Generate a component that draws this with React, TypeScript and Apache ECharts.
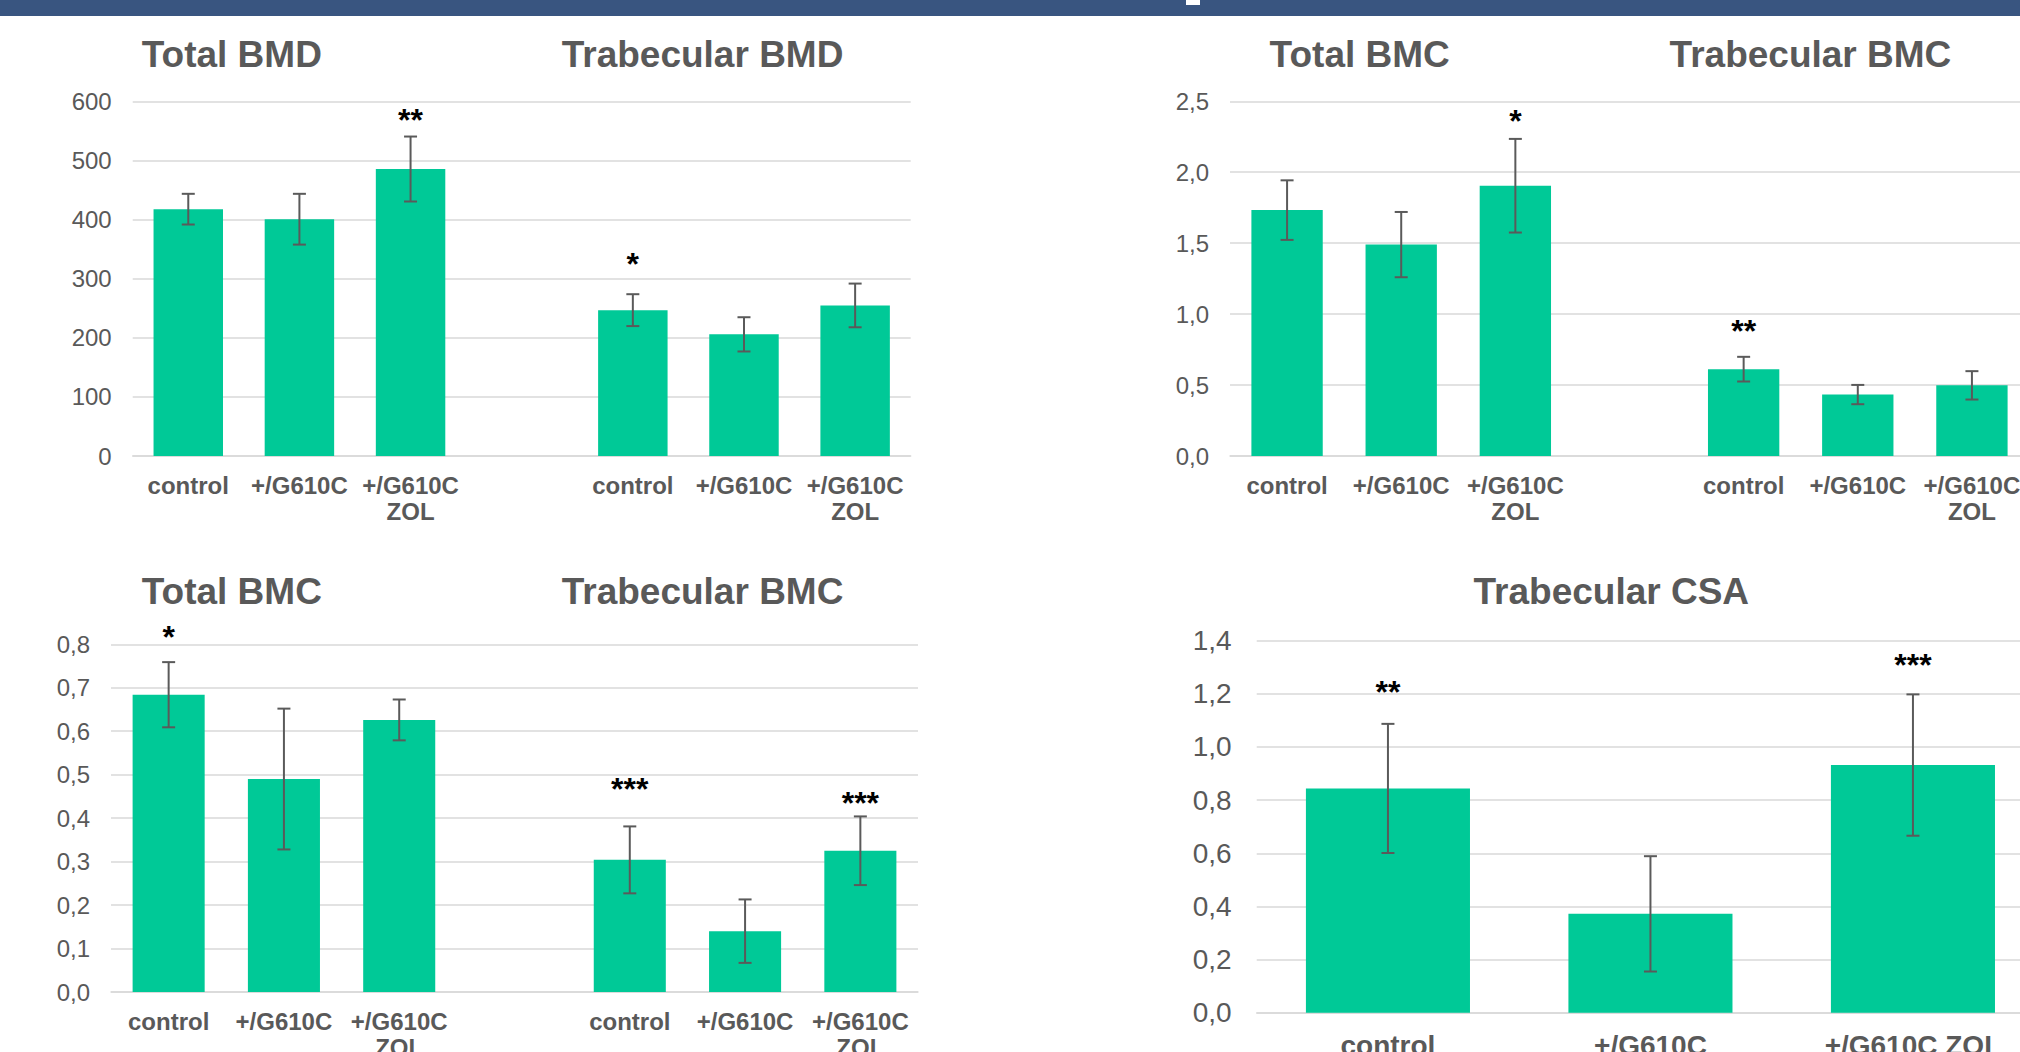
import React, { useEffect, useRef } from "react";
import * as echarts from "echarts";

// ---------- data ----------
const groupCats = ["control", "+/G610C", "+/G610C\nZOL"];
const splitCats = [...groupCats, "", ...groupCats];
const csaCats = ["control", "+/G610C", "+/G610C ZOL"];

// Panel A: Total BMD / Trabecular BMD
const totalBMD = [418, 401, 486];
const totalBMDErr = [26, 43, 55];
const totalBMDStars = ["", "", "**"];
const totalBMDStarY = [0, 0, 580];
const trabBMD = [247, 206, 255];
const trabBMDErr = [27, 29, 37];
const trabBMDStars = ["*", "", ""];
const trabBMDStarY = [336, 0, 0];

// Panel B: Total BMC / Trabecular BMC (top)
const totalBMC1 = [1.733, 1.49, 1.905];
const totalBMC1Err = [0.21, 0.23, 0.33];
const totalBMC1Stars = ["", "", "*"];
const totalBMC1StarY = [0, 0, 2.4];
const trabBMC1 = [0.612, 0.433, 0.498];
const trabBMC1Err = [0.087, 0.068, 0.1];
const trabBMC1Stars = ["**", "", ""];
const trabBMC1StarY = [0.924, 0, 0];

// Panel C: Total BMC / Trabecular BMC (bottom)
const totalBMC2 = [0.684, 0.49, 0.626];
const totalBMC2Err = [0.075, 0.162, 0.047];
const totalBMC2Stars = ["*", "", ""];
const totalBMC2StarY = [0.83, 0, 0];
const trabBMC2 = [0.304, 0.14, 0.325];
const trabBMC2Err = [0.077, 0.073, 0.079];
const trabBMC2Stars = ["***", "", "***"];
const trabBMC2StarY = [0.481, 0, 0.448];

// Panel D: Trabecular CSA
const trabCSA = [0.844, 0.372, 0.932];
const trabCSAErr = [0.243, 0.217, 0.266];
const trabCSAStars = ["**", "", "***"];
const trabCSAStarY = [1.229, 0, 1.331];

// ---------- helpers ----------
const FONT = '"Liberation Sans", Arial, Helvetica, sans-serif';
const GRAY = "#595959";
const GRID = "#D9D9D9";
const BAR = "#00C997";

const join = (a: any[], b: any[]) => [...a, null, ...b];

const comma1 = (v: number) => v.toFixed(1).replace(".", ",");

function barSeries(idx: number, values: (number | null)[]) {
  return {
    type: "bar",
    xAxisIndex: idx,
    yAxisIndex: idx,
    barWidth: "62.5%",
    itemStyle: { color: BAR },
    data: values.map((v) => (v == null ? "-" : v)),
    silent: true,
    z: 2,
  };
}

function errSeries(
  idx: number,
  values: (number | null)[],
  errs: (number | null)[],
  stars: string[],
  starY: (number | null)[],
  starSize: number
) {
  return {
    type: "custom",
    xAxisIndex: idx,
    yAxisIndex: idx,
    clip: false,
    silent: true,
    z: 10,
    data: values.map((v, i) => [i, v == null ? 0 : v]),
    renderItem: (params: any, api: any) => {
      const i = params.dataIndex;
      const children: any[] = [];
      const v = values[i];
      const e = errs[i];
      if (v != null && e != null) {
        const top = api.coord([i, v + e]);
        const bot = api.coord([i, v - e]);
        const hw = 6.5;
        const st = { stroke: "#5A5A5A", lineWidth: 2 };
        children.push({ type: "line", shape: { x1: top[0], y1: top[1], x2: bot[0], y2: bot[1] }, style: st });
        children.push({ type: "line", shape: { x1: top[0] - hw, y1: top[1], x2: top[0] + hw, y2: top[1] }, style: st });
        children.push({ type: "line", shape: { x1: bot[0] - hw, y1: bot[1], x2: bot[0] + hw, y2: bot[1] }, style: st });
      }
      if (stars[i]) {
        const p = api.coord([i, starY[i]]);
        children.push({
          type: "text",
          x: p[0],
          y: p[1] + 6,
          style: {
            text: stars[i],
            font: `bold ${starSize}px ${FONT}`,
            fill: "#000000",
            align: "center",
            verticalAlign: "middle",
          },
        });
      }
      return { type: "group", children };
    },
  };
}

function xAxis(idx: number, cats: string[], fontSize: number, margin: number, lineHeight: number) {
  return {
    type: "category",
    gridIndex: idx,
    data: cats,
    axisLine: { show: true, lineStyle: { color: GRID, width: 1.5 } },
    axisTick: { show: false },
    axisLabel: {
      interval: 0,
      margin,
      color: GRAY,
      fontFamily: FONT,
      fontWeight: "bold",
      fontSize,
      lineHeight,
      align: "center",
    },
  };
}

function yAxis(idx: number, max: number, interval: number, fmt: (v: number) => string, fontSize: number, margin: number) {
  return {
    type: "value",
    gridIndex: idx,
    min: 0,
    max,
    interval,
    axisLine: { show: false },
    axisTick: { show: false },
    splitLine: { show: true, lineStyle: { color: GRID, width: 1.5 } },
    axisLabel: { color: GRAY, fontFamily: FONT, fontSize, margin, formatter: fmt },
  };
}

function title(text: string, x: number, y: number) {
  return {
    type: "text",
    x,
    y,
    silent: true,
    style: {
      text,
      font: `bold 37px ${FONT}`,
      fill: GRAY,
      align: "left",
      verticalAlign: "middle",
    },
  };
}

const gridBase = { containLabel: false, outerBoundsMode: "none" };

export default function App() {
  const ref = useRef<HTMLDivElement>(null);

  useEffect(() => {
    if (!ref.current) return;
    const chart = echarts.init(ref.current, undefined, { renderer: "svg" });

    const aVals = join(totalBMD, trabBMD);
    const bVals = join(totalBMC1, trabBMC1);
    const cVals = join(totalBMC2, trabBMC2);

    chart.setOption({
      animation: false,
      backgroundColor: "#ffffff",
      grid: [
        { ...gridBase, left: 132.7, top: 101.7, width: 778, height: 354.3 },
        { ...gridBase, left: 1230, top: 101.3, width: 799, height: 354.7 },
        { ...gridBase, left: 111, top: 644.3, width: 807, height: 347.7 },
        { ...gridBase, left: 1256.7, top: 640.7, width: 787.5, height: 372 },
      ],
      xAxis: [
        xAxis(0, splitCats, 24, 16, 26),
        xAxis(1, splitCats, 24, 16, 26),
        xAxis(2, splitCats, 24, 16, 26),
        xAxis(3, csaCats, 28, 18, 30),
      ],
      yAxis: [
        yAxis(0, 600, 100, (v) => String(Math.round(v)), 24, 21),
        yAxis(1, 2.5, 0.5, comma1, 24, 21),
        yAxis(2, 0.8, 0.1, comma1, 24, 21),
        yAxis(3, 1.4, 0.2, comma1, 28, 25),
      ],
      series: [
        barSeries(0, aVals),
        errSeries(0, aVals, join(totalBMDErr, trabBMDErr), [...totalBMDStars, "", ...trabBMDStars], join(totalBMDStarY, trabBMDStarY), 32),
        barSeries(1, bVals),
        errSeries(1, bVals, join(totalBMC1Err, trabBMC1Err), [...totalBMC1Stars, "", ...trabBMC1Stars], join(totalBMC1StarY, trabBMC1StarY), 32),
        barSeries(2, cVals),
        errSeries(2, cVals, join(totalBMC2Err, trabBMC2Err), [...totalBMC2Stars, "", ...trabBMC2Stars], join(totalBMC2StarY, trabBMC2StarY), 32),
        barSeries(3, trabCSA),
        errSeries(3, trabCSA, trabCSAErr, trabCSAStars, trabCSAStarY, 32),
      ],
      graphic: [
        { type: "rect", left: 0, top: 0, shape: { width: 2020, height: 16 }, style: { fill: "#395580" }, silent: true },
        { type: "rect", left: 1186, top: 0, shape: { width: 14, height: 5 }, style: { fill: "#ffffff" }, silent: true },
        title("Total BMD", 141.7, 54.5),
        title("Trabecular BMD", 561.7, 54.5),
        title("Total BMC", 1269.6, 54.5),
        title("Trabecular BMC", 1669.6, 54.5),
        title("Total BMC", 141.7, 591),
        title("Trabecular BMC", 561.7, 591),
        title("Trabecular CSA", 1473.5, 591),
      ],
    });

    return () => {
      chart.dispose();
    };
  }, []);

  return (
    <div
      ref={ref}
      style={{ position: "absolute", left: 0, top: 0, width: 2020, height: 1052, overflow: "hidden", background: "#fff" }}
    />
  );
}
